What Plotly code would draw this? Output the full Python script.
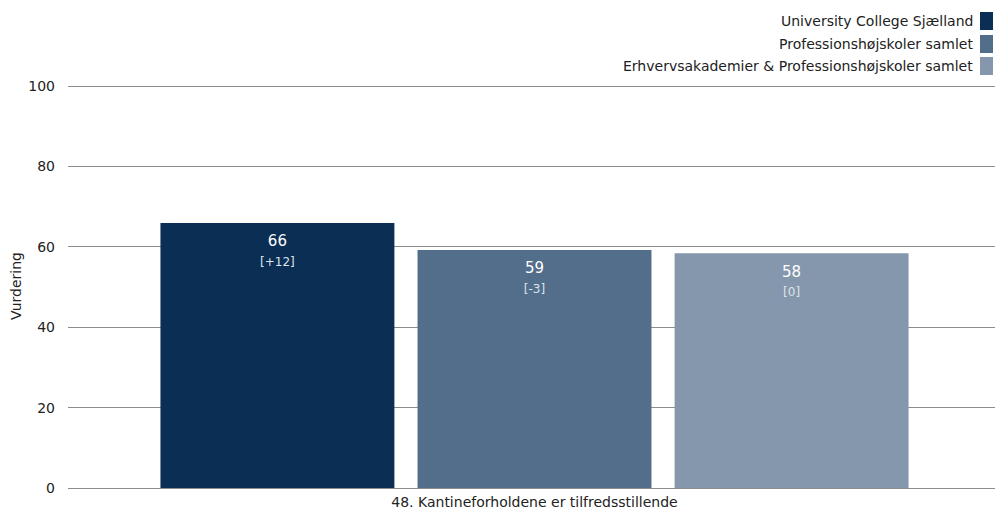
import plotly.graph_objects as go

category = ["48. Kantineforholdene er tilfredsstillende"]
series_names = [
    "University College Sjælland",
    "Professionshøjskoler samlet",
    "Erhvervsakademier & Professionshøjskoler samlet",
]
values = [65.9, 59.2, 58.4]
value_labels = ["66", "59", "58"]
change_labels = ["[+12]", "[-3]", "[0]"]
colors = ["#0b2e55", "#536e8a", "#8497ad"]
y_ticks = [0, 20, 40, 60, 80, 100]

FONT = "Tahoma, DejaVu Sans, sans-serif"


def bar_label(v, c):
    # small base font -> fine line steps; a blank leading line pads the top
    return (
        "<span style='font-size:8px'>&nbsp;</span><br><br>"
        f"<span style='font-size:15px'>{v}</span><br><br><br>"
        f"<span style='font-size:12px;color:#dde3ea'>{c}</span>"
    )


fig = go.Figure()
for name, v, vl, cl, c in zip(series_names, values, value_labels, change_labels, colors):
    fig.add_trace(go.Bar(
        name=name,
        x=category,
        y=[v],
        marker=dict(color=c, line=dict(width=0)),
        text=[bar_label(vl, cl)],
        textposition="inside",
        insidetextanchor="end",
        textangle=0,
        textfont=dict(family=FONT, size=5.1, color="white"),
        showlegend=False,
        hoverinfo="skip",
    ))

# Legend drawn as annotations (text left of swatch)
L, R, T, B = 68, 0, 84, 21
W, H = 995, 509
pw = W - L - R
ph = H - T - B
legend_y_px = [21, 44, 66]
for name, c, py in zip(series_names, colors, legend_y_px):
    yp = (H - B - py) / ph
    fig.add_annotation(
        x=(975 - L) / pw, y=yp, xref="paper", yref="paper",
        xanchor="right", yanchor="middle", showarrow=False,
        text=name, font=dict(family=FONT, size=14, color="#222222"),
    )
    fig.add_shape(
        type="rect", xref="paper", yref="paper",
        x0=(980 - L) / pw, x1=(993 - L) / pw,
        y0=yp - 9 / ph, y1=yp + 9 / ph,
        fillcolor=c, line=dict(width=0), layer="above",
    )

fig.update_layout(
    width=W, height=H,
    margin=dict(l=L, r=R, t=T, b=B, autoexpand=False),
    barmode="group",
    bargap=0.168,
    bargroupgap=0.09,
    plot_bgcolor="white",
    paper_bgcolor="white",
    font=dict(family=FONT, size=14, color="#222222"),
)
fig.update_xaxes(
    range=[-0.5 - 3 / pw, 0.5 - 3 / pw],
    showgrid=False, showline=False, ticks="", ticklen=0,
    ticklabelstandoff=4,
    tickfont=dict(family=FONT, size=14, color="#222222"),
    automargin=False,
)
fig.update_yaxes(
    range=[0, 100.5], tickvals=y_ticks, showgrid=True,
    gridcolor="#8c8c8c", gridwidth=1,
    zeroline=True, zerolinecolor="#8c8c8c", zerolinewidth=1,
    showline=False, ticks="", ticklabelstandoff=12,
    tickfont=dict(family=FONT, size=14, color="#222222"),
    title=dict(text="Vurdering", font=dict(family=FONT, size=14, color="#222222"), standoff=3),
    automargin=False,
)

fig.write_html(
    "out.html",
    config={"displayModeBar": False},
    post_script="document.body.style.margin='0px';document.body.style.padding='0px';",
)
